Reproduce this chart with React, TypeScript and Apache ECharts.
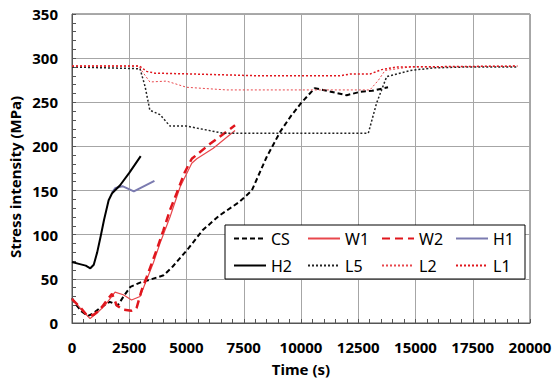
import React, { useEffect, useRef } from "react";
import * as echarts from "echarts";

const xTicks = { min: 0, max: 20000, interval: 2500 };
const yTicks = { min: 0, max: 350, interval: 50 };

const csData = [[0,28],[200,20],[420,13],[700,8],[930,11],[1220,17],[1650,24],[2000,20],[2250,30],[2550,41],[3000,46],[3400,49],[4000,54],[4400,64],[5100,85],[5700,105],[6450,122],[7300,137],[7850,150],[8500,188],[9100,217],[9550,234],[10000,249],[10600,266],[11300,262],[12000,258],[12600,262],[13100,263],[13800,267]];
const w1Data = [[0,28],[350,17],[790,5],[1080,11],[1440,20],[1880,35],[2240,32],[2600,26],[2970,30],[3260,49],[3550,68],[3840,90],[4060,105],[4280,120],[4720,154],[5230,181],[5450,186],[6170,198],[7120,218]];
const w2Data = [[0,27],[350,18],[640,9],[930,9],[1220,15],[1590,28],[1750,33],[1950,20],[2240,15],[2600,14],[2820,17],[3040,37],[3260,52],[3700,83],[3990,105],[4280,128],[4570,147],[4930,171],[5230,186],[6030,203],[7120,224]];
const h1Data = [[1750,148],[1900,153],[2200,155],[2700,149],[3000,153],[3600,161]];
const h2Data = [[0,69],[300,67],[600,65],[800,62],[950,66],[1100,80],[1250,98],[1400,117],[1600,139],[1750,147],[2100,156],[2500,170],[3000,189]];
const l5Data = [[0,290],[2970,288],[3190,268],[3400,241],[3840,236],[4280,223],[5000,223],[6600,215],[12940,215],[13300,249],[13740,279],[14760,286],[15800,289],[17240,290],[19450,290]];
const l2Data = [[0,291],[2900,291],[3400,273],[4130,274],[5000,267],[6750,264],[13010,264],[13380,275],[13670,286],[14760,290],[19450,291]];
const l1Data = [[0,291],[2950,291],[3260,285],[3620,283],[5300,282],[8200,280],[11700,280],[12140,282],[13010,282],[13520,287],[14180,290],[19450,291]];

const FONT = "'Noto Sans', sans-serif";

export default function App() {
  const ref = useRef<HTMLDivElement>(null);
  useEffect(() => {
    if (!ref.current) return;
    const chart = echarts.init(ref.current, undefined, { renderer: "svg" });
    const line = (name: string, data: number[][], color: string, width: number, type: any, z = 2) => ({
      name, type: "line", data, symbol: "none", z,
      lineStyle: { color, width, type },
      itemStyle: { color },
    });
    chart.setOption({
      animation: false,
      backgroundColor: "#fff",
      textStyle: { fontFamily: FONT },
      grid: { left: 72, right: 30, top: 14, bottom: 58, show: true, borderColor: "#555", borderWidth: 1 },
      xAxis: {
        type: "value", ...xTicks,
        name: "Time (s)", nameLocation: "middle", nameGap: 38,
        nameTextStyle: { fontFamily: FONT, fontWeight: "bold", fontSize: 15, color: "#000" },
        axisLine: { show: true, onZero: false, lineStyle: { color: "#555" } },
        axisTick: { show: true, inside: true, length: 4, lineStyle: { color: "#555" } },
        minorTick: { show: true, splitNumber: 5, length: 4, lineStyle: { color: "#555" } },
        splitLine: { show: true, lineStyle: { color: "#a6a6a6", width: 1 } },
        axisLabel: { fontFamily: FONT, fontWeight: "bold", fontSize: 15, color: "#000", margin: 16, formatter: (v: number) => String(v) },
      },
      yAxis: {
        type: "value", ...yTicks,
        axisLine: { show: true, lineStyle: { color: "#555" } },
        axisTick: { show: true, inside: true, length: 4, lineStyle: { color: "#555" } },
        minorTick: { show: true, splitNumber: 5, length: 4, lineStyle: { color: "#555" } },
        splitLine: { show: true, lineStyle: { color: "#a6a6a6", width: 1 } },
        axisLabel: { fontFamily: FONT, fontWeight: "bold", fontSize: 15, color: "#000", margin: 14, formatter: (v: number) => String(v) },
      },
      graphic: [
        {
          type: "text", x: 15, y: 177, rotation: Math.PI / 2,
          style: { text: "Stress intensity (MPa)", fontFamily: FONT, fontWeight: "bold", fontSize: 15, fill: "#000", align: "center", verticalAlign: "middle" },
        },
      ],
      legend: {
        left: 225, top: 225, width: 290,
        orient: "horizontal",
        itemWidth: 32, itemHeight: 14, itemGap: 8,
        padding: [4, 4, 4, 8],
        backgroundColor: "#fff", borderColor: "#000", borderWidth: 1,
        itemStyle: { opacity: 0 },
        textStyle: { fontFamily: FONT, fontSize: 16, color: "#000", width: 28, lineHeight: 19 },
        data: ["CS", "W1", "W2", "H1", "H2", "L5", "L2", "L1"],
        z: 10,
      },
      series: [
        line("CS", csData, "#000", 2, [5, 3]),
        line("W1", w1Data, "#e8474c", 1.2, "solid"),
        line("W2", w2Data, "#e0161d", 2.5, [8, 5]),
        line("H1", h1Data, "#7b7bb0", 2, "solid"),
        line("H2", h2Data, "#000", 2, "solid"),
        line("L5", l5Data, "#222", 1.5, [2, 2]),
        line("L2", l2Data, "#e8474c", 1, [2, 2]),
        line("L1", l1Data, "#e0161d", 1.5, [2, 2]),
      ],
    });
    return () => chart.dispose();
  }, []);
  return <div ref={ref} style={{ position: "absolute", left: 0, top: 0, width: 560, height: 381 }} />;
}
